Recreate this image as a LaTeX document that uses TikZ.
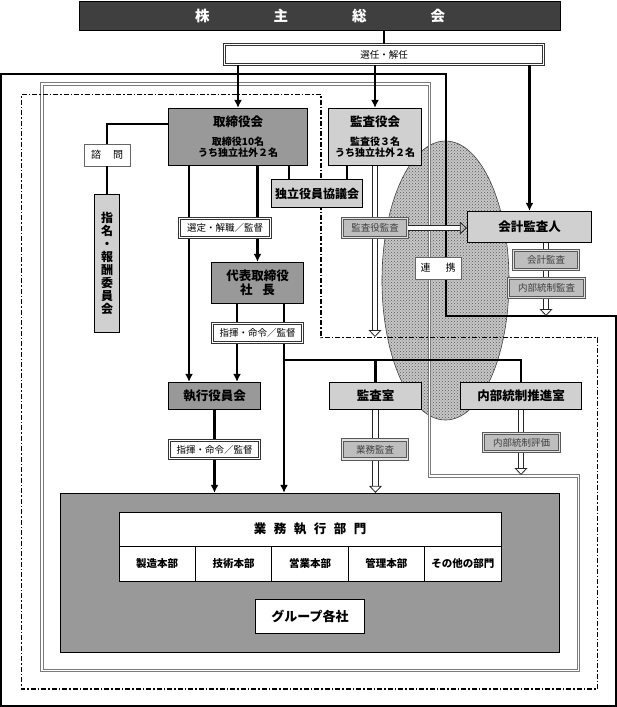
\documentclass[tikz,border=0pt]{standalone}
\usepackage{fontspec}
\setmainfont{Noto Sans CJK JP}
\usepackage{tikz}
\usetikzlibrary{positioning, arrows.meta, patterns}
\definecolor{headgray}{HTML}{3F3F3F}
\definecolor{midgray}{HTML}{999999}
\definecolor{boxlight}{HTML}{D0D0D0}
\definecolor{tagfill}{HTML}{BEBEBE}
\definecolor{framegray}{HTML}{7A7A7A}

\begin{document}
\begin{tikzpicture}[x=1pt, y=-1pt, thick, >=Latex, inner sep=0pt,
    headbox/.style={draw, line width=1pt, fill=headgray, text=white, font=\bfseries\fontsize{14.5}{16}\selectfont},
    darkbox/.style={draw, line width=1.3pt, fill=midgray, align=center, font=\bfseries\fontsize{12.5}{14}\selectfont},
    lightbox/.style={darkbox, fill=boxlight},
    whitetag/.style={draw=black!80, line width=0.85pt, double=white, double distance=1.6pt, fill=white, font=\fontsize{9.5}{11}\selectfont},
    graytag/.style={whitetag, draw=black!65, double=black!12, fill=tagfill, text=black!75},
    plaintag/.style={draw=black!60, line width=0.85pt, fill=white, font=\fontsize{10}{11}\selectfont},
    link/.style={line width=2.2pt},
    linkarrow/.style={link, -{Latex[length=8pt, width=8pt]}},
    hollow/.style={draw=black!85, line width=0.8pt, double=white, double distance=4.6pt, -{Triangle[open, length=7pt, width=13pt]}},
    frame/.style={line width=1.2pt},
    cell/.style={draw, line width=1pt, fill=white, minimum width=76.4pt, minimum height=35pt, font=\bfseries\fontsize{10.5}{12}\selectfont}]
    \useasboundingbox (0,0) rectangle (617,707);

    % liaison area and frames
    \draw[black!75, line width=0.6pt, fill=black!22, postaction={pattern=crosshatch dots, pattern color=black!65}] (445.5,280.5) ellipse [x radius=63.5pt, y radius=139.5pt];
    \draw[frame] (1,74) -- (446,74) -- (446,316) -- (616,316) -- (616,706) -- (1,706) -- cycle;
    \draw[draw=framegray, line width=0.7pt, double=white, double distance=1.9pt] (42,84) -- (429.5,84) -- (429.5,476) -- (578.5,476) -- (578.5,670.5) -- (42,670.5) -- cycle;
    \draw[frame, dash pattern=on 5pt off 2pt on 1.5pt off 2pt] (21.5,94.5) -- (321,94.5) -- (321,337.5) -- (597.5,337.5) -- (597.5,689) -- (21.5,689) -- cycle;

    % organs
    \node[headbox, minimum width=481pt, minimum height=29pt] (agm) at (320,15.5) {株\hspace{64pt}主\hspace{64pt}総\hspace{64pt}会};
    \node[whitetag, minimum width=319pt, minimum height=20pt] (elect) at (384,54.5) {選任・解任};
    \node[darkbox, minimum width=139pt, minimum height=57pt, font=\bfseries\fontsize{10}{11}\selectfont] (board) at (238,137) {{\fontsize{12.5}{14}\selectfont 取締役会}\\[8pt]取締役10名\\うち独立社外２名};
    \node[lightbox, minimum width=93pt, minimum height=57pt, font=\bfseries\fontsize{10}{11}\selectfont] (audboard) at (375,137) {{\fontsize{12.5}{14}\selectfont 監査役会}\\[8pt]監査役３名\\うち独立社外２名};
    \node[lightbox, minimum width=91pt, minimum height=28pt, font=\bfseries\fontsize{12}{14}\selectfont] (indep) at (317,193.5) {独立役員協議会};
    \node[plaintag, minimum width=46pt, minimum height=22pt] (advice) at (107,155) {諮\hspace{12pt}問};
    \node[lightbox, minimum width=25pt, minimum height=138pt, font=\bfseries\fontsize{12}{13}\selectfont] (nomcom) at (107,263.5) {指\\名\\・\\報\\酬\\委\\員\\会};
    \node[darkbox, minimum width=92pt, minimum height=41pt] (ceo) at (257.5,283) {代表取締役\\社\hspace{10pt}長};
    \node[darkbox, minimum width=92pt, minimum height=27pt] (officers) at (214.5,396) {執行役員会};
    \node[lightbox, minimum width=92pt, minimum height=27pt] (auditoff) at (375.5,396) {監査室};
    \node[lightbox, minimum width=121pt, minimum height=27pt] (icpromo) at (521,396) {内部統制推進室};
    \node[lightbox, minimum width=124pt, minimum height=31pt] (acct) at (529.5,227) {会計監査人};

    % business execution
    \node[draw, line width=1.3pt, fill=midgray, minimum width=499pt, minimum height=159pt] (ops) at (310,573) {};
    \node[draw, line width=1pt, fill=white, minimum width=382pt, minimum height=34pt, font=\bfseries\fontsize{12.5}{14}\selectfont] (opsdiv) at (310,529) {業\hspace{7.5pt}務\hspace{7.5pt}執\hspace{7.5pt}行\hspace{7.5pt}部\hspace{7.5pt}門};
    \node[cell] (div1) at (157.2,563.5) {製造本部};
    \node[cell] (div2) at (233.6,563.5) {技術本部};
    \node[cell] (div3) at (310,563.5) {営業本部};
    \node[cell] (div4) at (386.4,563.5) {管理本部};
    \node[cell] (div5) at (462.8,563.5) {その他の部門};
    \node[draw, line width=1pt, fill=white, minimum width=109pt, minimum height=34pt, font=\bfseries\fontsize{13}{15}\selectfont] (group) at (310,616.5) {グループ各社};

    % connectors
    \draw[link] (agm.south -| elect) -- (elect);
    \draw[linkarrow] (elect.south -| board) -- (board);
    \draw[linkarrow] (elect.south -| audboard) -- (audboard);
    \draw[linkarrow] (elect.south -| acct) -- (acct);
    \draw[link] ([yshift=13pt]board.west) -| (advice);
    \draw[link] (advice) -- (nomcom);
    \draw[link] ([xshift=51pt]board.south) -- ([xshift=51pt]board.south |- indep.north);
    \draw[link] ([xshift=-28pt]audboard.south) -- ([xshift=-28pt]audboard.south |- indep.north);
    \draw[linkarrow] (board.south -| ceo) -- (ceo);
    \draw[linkarrow] ([xshift=-49pt]board.south) -- ([xshift=-49pt]board.south |- officers.north);
    \draw[linkarrow] ([xshift=-20.5pt]ceo.south) -- ([xshift=-20.5pt]ceo.south |- officers.north);
    \draw[linkarrow] ([xshift=26.5pt]ceo.south) -- ([xshift=26.5pt]ceo.south |- ops.north);
    \coordinate (fork) at (284,360);
    \draw[link] (fork) -| (icpromo);
    \draw[link] (fork -| auditoff) -- (auditoff);
    \draw[linkarrow] (officers) -- (officers |- ops.north);
    \draw[hollow] (auditoff) -- (auditoff |- ops.north);
    \coordinate (icend) at (521,475);
    \draw[hollow] (icpromo) -- (icend);
    \coordinate (audend) at (375,337);
    \draw[hollow] (audboard) -- (audend);
    \coordinate (acctend) at (546,316);
    \draw[hollow] ([xshift=16.5pt]acct.south) -- (acctend);

    % labels on connectors
    \node[graytag, minimum width=65pt, minimum height=19pt] (audlbl) at (375,228) {監査役監査};
    \draw[hollow] (audlbl.east) -- (audlbl.east -| acct.west);
    \node[graytag, minimum width=65pt, minimum height=19pt] (acctlbl) at (546,260) {会計監査};
    \node[graytag, minimum width=76pt, minimum height=19pt] (icaudlbl) at (546.5,288) {内部統制監査};
    \node[graytag, minimum width=65pt, minimum height=19pt] (opaudlbl) at (375,449.5) {業務監査};
    \node[graytag, minimum width=76pt, minimum height=18pt] (icevallbl) at (521.5,442.5) {内部統制評価};
    \node[whitetag, minimum width=91pt, minimum height=19pt] (select) at (225,228) {選定・解職／監督};
    \node[whitetag, minimum width=90pt, minimum height=19pt] (cmd1) at (257.5,333) {指揮・命令／監督};
    \node[whitetag, minimum width=90pt, minimum height=18pt] (cmd2) at (214.5,449.5) {指揮・命令／監督};
    \node[plaintag, minimum width=46pt, minimum height=22pt] (liaison) at (438,268) {連\hspace{15pt}携};
\end{tikzpicture}
\end{document}
